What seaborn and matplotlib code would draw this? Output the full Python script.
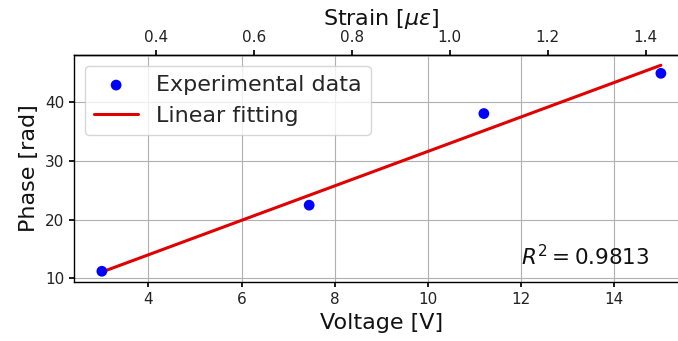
import numpy as np
import pandas as pd
import matplotlib
matplotlib.use("Agg")
import matplotlib.pyplot as plt
import seaborn as sns

voltage = [3.0, 7.45, 11.2, 15.0]
phase = [11.2, 22.45, 38.05, 44.9]
strain_ticks = [0.4, 0.6, 0.8, 1.0, 1.2, 1.4]
r2_text = r"$R^2 = 0.9813$"

# strain per volt for the top axis
strain_slope = 0.0951
strain_offset = 0.0046

sns.set_theme(style="ticks")
plt.rcParams.update({
    "axes.grid": True,
    "grid.color": "#b0b0b0",
    "grid.linewidth": 0.8,
    "axes.edgecolor": "black",
    "axes.linewidth": 1.0,
    "xtick.color": "black",
    "ytick.color": "black",
    "xtick.major.size": 3.5,
    "ytick.major.size": 3.5,
    "xtick.labelsize": 11,
    "ytick.labelsize": 11,
    "xtick.labelcolor": "#222222",
    "ytick.labelcolor": "#222222",
})
plt.rcParams['font.family'] = ['DejaVu Sans']

df = pd.DataFrame({"Voltage": voltage, "Phase": phase})
coef = np.polyfit(df["Voltage"], df["Phase"], 1)
df["Fit"] = np.polyval(coef, df["Voltage"])

fig = plt.figure(figsize=(6.78, 3.41), dpi=100)
ax = fig.add_axes([0.109, 0.172, 0.907, 0.667])

sns.scatterplot(data=df, x="Voltage", y="Phase", color="blue", s=60,
                edgecolor="none", label="Experimental data", ax=ax, zorder=3)
sns.lineplot(data=df, x="Voltage", y="Fit", color="#e00000", lw=2.2,
             label="Linear fitting", ax=ax, zorder=2)

ax.set_xlabel("Voltage [V]", fontsize=16, color="#111111")
ax.set_ylabel("Phase [rad]", fontsize=16, color="#111111")
ax.set_xticks([4, 6, 8, 10, 12, 14])
ax.set_yticks([10, 20, 30, 40])
ax.margins(x=0.05, y=0.05)

ax.text(12.0, 12.3, r2_text, fontsize=15.5, color="#111111")

ax.legend(loc="upper left", fontsize=16, framealpha=0.8)

top = ax.secondary_xaxis(
    "top",
    functions=(lambda v: v * strain_slope + strain_offset,
               lambda s: (s - strain_offset) / strain_slope))
top.set_xticks(strain_ticks)
top.set_xlabel(r"Strain [$\mu\varepsilon$]", fontsize=16, color="#111111")
top.tick_params(labelsize=11)

fig.savefig("out.png", dpi=100)
